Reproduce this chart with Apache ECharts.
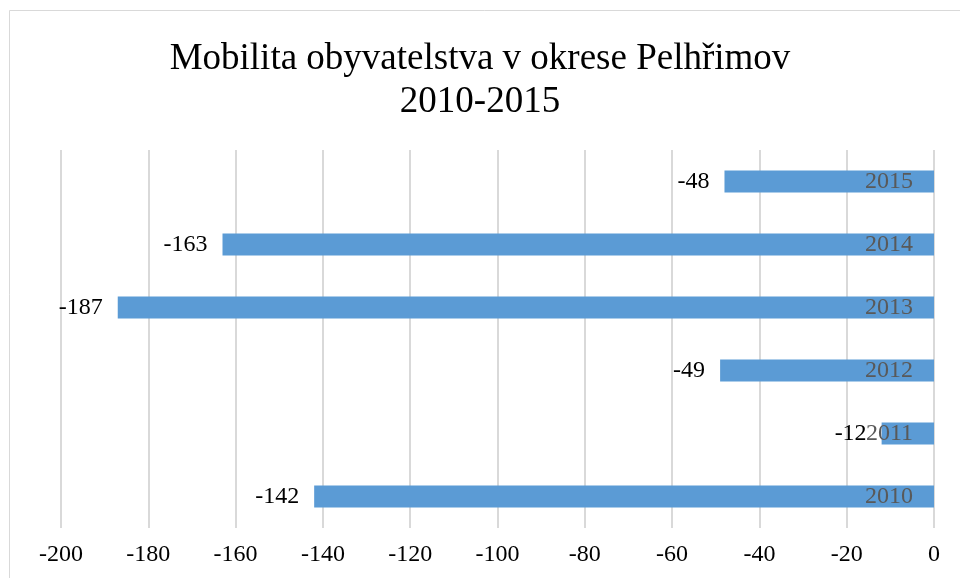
<!DOCTYPE html>
<html>
<head>
<meta charset="utf-8">
<script src="https://cdn.jsdelivr.net/npm/echarts@6/dist/echarts.min.js"></script>
<style>html,body{margin:0;padding:0;background:#fff}#c{width:960px;height:578px}</style>
</head>
<body>
<div id="c"></div>
<script>
const titleText = 'Mobilita obyvatelstva v okrese Pelhřimov\n2010-2015';
const years = ['2010', '2011', '2012', '2013', '2014', '2015'];
const values = [-142, -12, -49, -187, -163, -48];
const xMin = -200, xMax = 0, xStep = 20;

const font = '"Liberation Serif", "Times New Roman", serif';
const chart = echarts.init(document.getElementById('c'));
chart.setOption({
  animation: false,
  backgroundColor: '#fff',
  title: {
    text: titleText,
    left: 'center',
    top: 33,
    textStyle: { fontFamily: font, fontSize: 37, fontWeight: 'normal', color: '#000', lineHeight: 43 }
  },
  graphic: [
    { type: 'line', shape: { x1: 9.5, y1: 10.5, x2: 960, y2: 10.5 }, style: { stroke: '#d9d9d9', lineWidth: 1 } },
    { type: 'line', shape: { x1: 9.5, y1: 10.5, x2: 9.5, y2: 578 }, style: { stroke: '#d9d9d9', lineWidth: 1 } }
  ],
  grid: { left: 61, right: 26, top: 150, bottom: 50, containLabel: false },
  xAxis: {
    type: 'value',
    min: xMin, max: xMax, interval: xStep,
    axisLine: { show: false },
    axisTick: { show: false },
    splitLine: { show: true, lineStyle: { color: '#d9d9d9', width: 2 } },
    axisLabel: { fontFamily: font, fontSize: 24, color: '#000', margin: 15 }
  },
  yAxis: {
    type: 'category',
    data: years,
    position: 'right',
    axisLine: { show: false },
    axisTick: { show: false },
    splitLine: { show: false },
    axisLabel: { inside: true, margin: 21, fontFamily: font, fontSize: 24, color: '#595959' },
    z: 10
  },
  series: [{
    type: 'bar',
    data: values,
    barWidth: 22,
    itemStyle: { color: '#5b9bd5' },
    label: { show: true, position: 'left', distance: 15, fontFamily: font, fontSize: 24, color: '#000' }
  }]
});
</script>
</body>
</html>
